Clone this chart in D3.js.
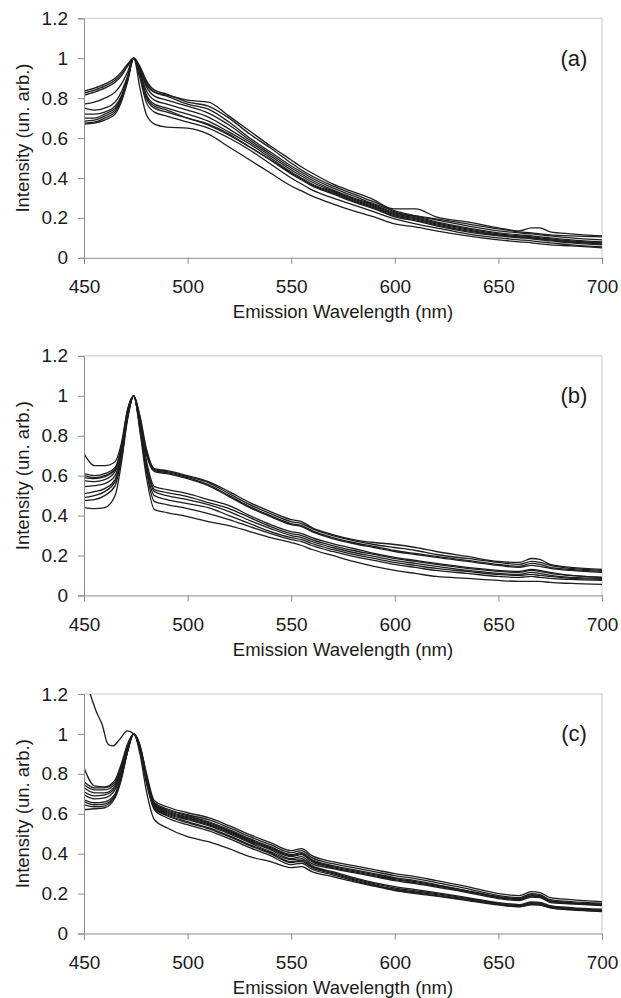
<!DOCTYPE html>
<html>
<head>
<meta charset="utf-8">
<script src="https://cdnjs.cloudflare.com/ajax/libs/d3/7.8.5/d3.min.js"></script>
<style>
  body { margin: 0; background: #fff; }
  svg text { font-family: "Liberation Sans", Arial, sans-serif; fill: #1a1a1a; }
</style>
</head>
<body>
<svg id="chart" width="621" height="998"></svg>
<script>
const wavelengths = [450,455,460,465,468,471,474,477,480,484,490,500,510,520,530,540,550,555,560,570,580,590,600,610,620,635,650,660,666,670,675,685,700]

const xTicks = [450, 500, 550, 600, 650, 700]
const yTicks = [0, 0.2, 0.4, 0.6, 0.8, 1, 1.2]
const panelLabels = ["(a)", "(b)", "(c)"]

// panel (a)
const curvesA = [
  [.835,.85,.87,.90,.93,.97,1.0,.95,.87,.83,.815,.79,.78,.71,.635,.56,.49,.455,.425,.37,.33,.29,.23,.21,.195,.17,.145,.13,.125,.12,.115,.11,.105],
  [.825,.84,.86,.89,.92,.96,1.0,.96,.89,.84,.82,.78,.76,.70,.62,.55,.475,.44,.41,.36,.32,.28,.245,.245,.205,.18,.15,.135,.15,.15,.13,.12,.11],
  [.815,.83,.85,.88,.91,.96,1.0,.95,.88,.83,.81,.77,.745,.68,.60,.53,.46,.43,.40,.35,.31,.27,.235,.21,.19,.16,.135,.125,.12,.115,.11,.10,.09],
  [.77,.78,.80,.83,.87,.93,1.0,.94,.86,.81,.79,.76,.725,.665,.59,.52,.45,.42,.39,.34,.30,.265,.225,.205,.18,.15,.125,.115,.11,.105,.10,.09,.08],
  [.75,.74,.75,.78,.83,.91,1.0,.93,.84,.79,.77,.74,.705,.645,.58,.51,.44,.41,.38,.335,.295,.26,.22,.20,.175,.145,.12,.11,.105,.10,.095,.085,.075],
  [.72,.72,.73,.76,.81,.90,1.0,.92,.82,.77,.75,.72,.685,.63,.57,.50,.43,.40,.37,.33,.29,.255,.215,.195,.17,.14,.115,.105,.10,.095,.09,.08,.07],
  [.70,.70,.72,.75,.80,.89,1.0,.91,.80,.75,.73,.70,.665,.615,.555,.49,.42,.39,.36,.32,.28,.245,.205,.185,.16,.13,.11,.10,.095,.09,.085,.075,.065],
  [.685,.69,.71,.74,.79,.89,1.0,.90,.78,.73,.71,.68,.65,.60,.54,.47,.40,.37,.34,.30,.265,.23,.195,.17,.15,.12,.10,.09,.085,.08,.075,.065,.055],
  [.67,.675,.69,.72,.78,.88,1.0,.85,.72,.67,.655,.65,.62,.555,.49,.425,.36,.335,.31,.27,.235,.205,.17,.155,.135,.11,.09,.08,.075,.07,.065,.06,.05],
  [.675,.68,.70,.73,.79,.89,1.0,.91,.81,.76,.74,.70,.67,.62,.555,.49,.425,.395,.365,.325,.285,.25,.21,.19,.165,.135,.115,.105,.10,.095,.09,.08,.075]
]

// panel (b)
const curvesB = [
  [.71,.65,.65,.67,.76,.93,1.0,.90,.74,.635,.625,.60,.57,.52,.465,.42,.38,.37,.34,.305,.28,.265,.255,.24,.22,.195,.17,.165,.185,.18,.155,.14,.13],
  [.61,.60,.61,.64,.74,.92,1.0,.89,.73,.63,.62,.595,.565,.51,.455,.41,.37,.36,.335,.30,.275,.255,.24,.225,.205,.185,.165,.155,.17,.165,.15,.135,.125],
  [.59,.585,.595,.63,.73,.91,1.0,.88,.72,.625,.615,.59,.555,.50,.445,.40,.36,.35,.325,.29,.265,.245,.225,.21,.195,.175,.155,.145,.16,.155,.14,.13,.12],
  [.60,.59,.60,.635,.74,.93,1.0,.87,.71,.62,.61,.585,.55,.495,.44,.395,.355,.345,.32,.285,.26,.24,.22,.205,.19,.17,.15,.14,.15,.145,.135,.125,.115],
  [.575,.57,.58,.62,.72,.91,1.0,.86,.68,.545,.53,.51,.48,.45,.40,.355,.32,.31,.29,.26,.235,.21,.19,.175,.16,.14,.125,.12,.13,.125,.115,.10,.09],
  [.545,.55,.56,.60,.71,.90,1.0,.86,.67,.53,.515,.495,.465,.435,.39,.345,.31,.30,.28,.25,.225,.205,.185,.17,.155,.135,.12,.115,.125,.12,.11,.10,.09],
  [.51,.52,.535,.58,.70,.90,1.0,.85,.66,.52,.50,.48,.455,.42,.375,.335,.30,.29,.27,.24,.215,.195,.175,.16,.145,.125,.11,.105,.115,.11,.10,.09,.085],
  [.49,.50,.52,.57,.69,.89,1.0,.84,.64,.50,.48,.46,.44,.40,.36,.32,.29,.28,.26,.23,.205,.185,.165,.15,.135,.12,.105,.10,.105,.10,.095,.085,.08],
  [.475,.48,.50,.55,.68,.89,1.0,.84,.63,.47,.455,.435,.41,.38,.345,.31,.28,.27,.25,.22,.195,.175,.155,.14,.125,.11,.095,.09,.095,.09,.085,.08,.075],
  [.44,.435,.44,.50,.66,.88,1.0,.82,.60,.43,.415,.395,.37,.35,.32,.29,.265,.25,.23,.20,.17,.145,.125,.11,.095,.085,.075,.07,.07,.07,.065,.06,.055]
]

// panel (c)
const curvesC = [
  [.83,.74,.735,.77,.85,.95,1.0,.94,.81,.665,.635,.605,.58,.54,.495,.455,.415,.425,.39,.36,.34,.32,.30,.285,.265,.235,.20,.19,.21,.205,.18,.17,.16],
  [.76,.73,.73,.76,.84,.94,1.0,.945,.80,.655,.625,.595,.57,.53,.485,.445,.405,.415,.38,.35,.33,.31,.29,.275,.255,.225,.19,.18,.20,.195,.17,.16,.152],
  [.745,.72,.72,.75,.83,.94,1.0,.94,.80,.65,.62,.59,.56,.52,.475,.435,.395,.405,.37,.34,.32,.30,.28,.265,.245,.215,.185,.175,.195,.19,.165,.155,.148],
  [.73,.705,.705,.74,.82,.93,1.0,.935,.79,.645,.61,.58,.55,.51,.465,.425,.385,.395,.36,.33,.31,.29,.27,.255,.238,.21,.18,.17,.188,.185,.16,.15,.145],
  [.71,.69,.695,.73,.81,.93,1.0,.93,.79,.64,.605,.575,.545,.505,.46,.42,.375,.385,.35,.325,.305,.285,.265,.25,.232,.205,.175,.165,.182,.18,.155,.148,.14],
  [.695,.675,.68,.72,.80,.92,1.0,.925,.78,.635,.60,.57,.54,.50,.455,.41,.37,.375,.34,.31,.28,.255,.235,.22,.205,.18,.155,.145,.158,.156,.14,.13,.122],
  [.67,.655,.66,.70,.79,.92,1.0,.92,.77,.63,.595,.56,.53,.49,.445,.405,.36,.368,.335,.305,.275,.25,.228,.214,.20,.176,.151,.141,.154,.152,.136,.126,.118],
  [.645,.635,.64,.69,.78,.91,1.0,.92,.77,.625,.59,.555,.525,.485,.44,.40,.355,.362,.33,.30,.27,.245,.222,.208,.195,.172,.148,.138,.15,.148,.133,.123,.115],
  [.62,.625,.63,.68,.77,.91,1.0,.915,.76,.62,.58,.545,.515,.475,.43,.39,.345,.352,.322,.294,.265,.24,.218,.204,.19,.168,.145,.135,.147,.145,.13,.12,.112],
  [.66,.645,.65,.69,.78,.91,1.0,.90,.72,.57,.53,.485,.46,.425,.385,.36,.33,.335,.31,.285,.26,.237,.215,.20,.187,.165,.143,.133,.144,.142,.128,.118,.11]
]

// the odd curve of panel (c) that comes in from above the frame
const oddW = [450,453,456,459,461,462,464,467,471,474,477,480,484,490,500,510,520,530,540,550,555,560,570,580,590,600,610,620,635,650,660,666,670,675,685,700]
const oddV = [1.3,1.2,1.11,1.04,.96,.945,.94,.97,1.015,1.0,.93,.79,.65,.615,.585,.555,.515,.47,.43,.39,.40,.365,.335,.315,.295,.275,.26,.242,.212,.182,.172,.19,.187,.162,.152,.143]

const panels = [
  { curves: curvesA, extra: null },
  { curves: curvesB, extra: null },
  { curves: curvesC, extra: { w: oddW, v: oddV } }
]

const svg = d3.select("#chart")
const left = 84, right = 602, plotH = 239.5
const tops = [18.3, 355.9, 694]

const x = d3.scaleLinear().domain([450, 700]).range([left, right])

panels.forEach((p, i) => {
  const top = tops[i]
  const y = d3.scaleLinear().domain([0, 1.2]).range([top + plotH, top])
  const g = svg.append("g")

  g.append("clipPath").attr("id", "clip" + i)
    .append("rect").attr("x", left).attr("y", top).attr("width", right - left).attr("height", plotH)

  // light frame on top and right
  g.append("path")
    .attr("d", `M${left},${top}H${right}V${top + plotH}`)
    .attr("fill", "none").attr("stroke", "#c8c8c8").attr("stroke-width", 1)

  const line = d3.line()
    .x(d => x(d[0]))
    .y(d => y(d[1]))
    .curve(d3.curveMonotoneX)

  const lines = g.append("g").attr("clip-path", `url(#clip${i})`)
  p.curves.forEach(c => {
    lines.append("path")
      .datum(wavelengths.map((w, k) => [w, c[k]]))
      .attr("d", line)
      .attr("fill", "none").attr("stroke", "#1e1e1e").attr("stroke-width", 1.3)
  })
  if (p.extra) {
    lines.append("path")
      .datum(p.extra.w.map((w, k) => [w, p.extra.v[k]]))
      .attr("d", line)
      .attr("fill", "none").attr("stroke", "#1e1e1e").attr("stroke-width", 1.3)
  }

  const xAxis = g.append("g").attr("transform", `translate(0,${top + plotH})`)
    .call(d3.axisBottom(x).tickValues(xTicks).tickSize(6).tickPadding(16).tickFormat(d3.format("d")))
  const yAxis = g.append("g").attr("transform", `translate(${left},0)`)
    .call(d3.axisLeft(y).tickValues(yTicks).tickSize(6).tickPadding(10).tickFormat(d => d))

  ;[xAxis, yAxis].forEach(a => {
    a.select(".domain").attr("stroke", "#8c8c8c")
    a.selectAll(".tick line").attr("stroke", "#8c8c8c")
    a.selectAll(".tick text").attr("font-size", 19).attr("fill", "#1a1a1a")
      .attr("font-family", "'Liberation Sans', Arial, sans-serif")
  })

  g.append("text")
    .attr("x", (left + right) / 2).attr("y", top + plotH + 54)
    .attr("text-anchor", "middle").attr("dominant-baseline", "central")
    .attr("font-size", 18.5)
    .text("Emission Wavelength (nm)")

  g.append("text")
    .attr("transform", `translate(22,${top + plotH / 2}) rotate(-90)`)
    .attr("text-anchor", "middle").attr("dominant-baseline", "central")
    .attr("font-size", 18.5)
    .text("Intensity (un. arb.)")

  g.append("text")
    .attr("x", 574).attr("y", y(1))
    .attr("text-anchor", "middle").attr("dominant-baseline", "central")
    .attr("font-size", 22)
    .text(panelLabels[i])
})
</script>
</body>
</html>
